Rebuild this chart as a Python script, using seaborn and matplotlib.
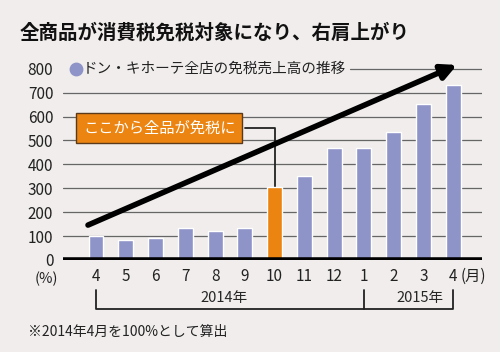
import numpy as np
import pandas as pd
import matplotlib
matplotlib.use("Agg")
import matplotlib.pyplot as plt
import seaborn as sns

# data (2014年4月 = 100%)
months = ["4", "5", "6", "7", "8", "9", "10", "11", "12", "1", "2", "3", "4"]
years = ["2014"] * 9 + ["2015"] * 4
sales_index = [100, 84, 93, 133, 123, 135, 307, 351, 469, 470, 536, 651, 732]
highlight = [False] * 6 + [True] + [False] * 6

title = "全商品が消費税免税対象になり、右肩上がり"
legend_label = "ドン・キホーテ全店の免税売上高の推移"
callout = "ここから全品が免税に"
footnote = "※2014年4月を100%として算出"

bg = "#F0EDEC"
blue = "#8E93C8"
orange = "#EC8411"

sns.set_style("white")
plt.rcParams["font.family"] = ["Noto Sans CJK JP", "DejaVu Sans"]

df = pd.DataFrame({
    "key": [f"{y}-{m}" for y, m in zip(years, months)],
    "value": sales_index,
    "kind": ["hl" if h else "base" for h in highlight],
})

fig = plt.figure(figsize=(5, 3.52), dpi=100, facecolor=bg)
ax = fig.add_axes([0.126, 0.2614, 0.838, 0.5636])
ax.set_facecolor(bg)

sns.barplot(data=df, x="key", y="value", hue="kind",
            palette={"base": blue, "hl": orange}, width=0.5,
            legend=False, ax=ax, zorder=3, saturation=1)

ax.set_xlim(-1.11, 12.97)
ax.set_ylim(0, 830)
ax.set_yticks(range(0, 900, 100))
ax.set_xticks(range(len(months)))
ax.set_xticklabels(months)
ax.set_xlabel("")
ax.set_ylabel("")
for s in ax.spines.values():
    s.set_visible(False)
ax.tick_params(axis="both", length=0, labelsize=11, colors="#222222")
ax.tick_params(axis="x", pad=6)
ax.tick_params(axis="y", pad=7)
for lbl in ax.get_yticklabels():
    lbl.set_va("center_baseline")

# gridlines
for v in range(100, 800, 100):
    ax.axhline(v, color="#666666", lw=0.9, zorder=1)
ax.axhline(800, xmin=(350 - 63) / 419, xmax=1, color="#666666", lw=0.9, zorder=1)
ax.axhline(0, color="black", lw=4, zorder=4, solid_capstyle="butt")

# legend
ax.scatter([0.03], [800 / 830], transform=ax.transAxes, s=80, color=blue,
           clip_on=False, zorder=5)
ax.text(0.048, 800 / 830, legend_label, transform=ax.transAxes, fontsize=10.5,
        va="center", ha="left", color="#222222")

# trend arrow
ax.annotate("", xy=(12.13, 816), xytext=(-0.27, 146),
            arrowprops=dict(arrowstyle="-|>,head_length=0.9,head_width=0.45",
                            lw=4, color="black", shrinkA=0, shrinkB=0),
            annotation_clip=False, zorder=6)

# callout
ax.plot([5.0, 6, 6], [552, 552, sales_index[6]], color="#222222", lw=1.3, zorder=2)
ax.text(2.12, 552, callout, fontsize=11, color="white", ha="center", va="center",
        zorder=7, bbox=dict(boxstyle="square,pad=0.42", fc=orange, ec="#5a3a1a", lw=1))

# axis unit labels
fig.text(46 / 500, 1 - 279 / 352, "(%)", fontsize=10.5, ha="center", va="center", color="#222222")
fig.text(473 / 500, 1 - 276 / 352, "(月)", fontsize=11, ha="center", va="center", color="#222222")

# year brackets
tr = ax.get_xaxis_transform()
y_top, y_bot = -0.151, -0.247
ax.plot([0, 0, 12, 12], [y_top, y_bot, y_bot, y_top], transform=tr, color="#222222",
        lw=1.3, clip_on=False)
ax.plot([9, 9], [y_top, y_bot], transform=tr, color="#222222", lw=1.3, clip_on=False)
ax.text(4.3, -0.19, "2014年", transform=tr, fontsize=10.5, ha="center", va="center")
ax.text(10.9, -0.19, "2015年", transform=tr, fontsize=10.5, ha="center", va="center")

fig.text(20 / 500, 1 - 33 / 352, title, fontsize=14, fontweight="bold",
         ha="left", va="center", color="#111111")
fig.text(28 / 500, 1 - 332 / 352, footnote, fontsize=10, ha="left", va="center",
         color="#222222")

fig.savefig("out.png", dpi=100, facecolor=bg)
